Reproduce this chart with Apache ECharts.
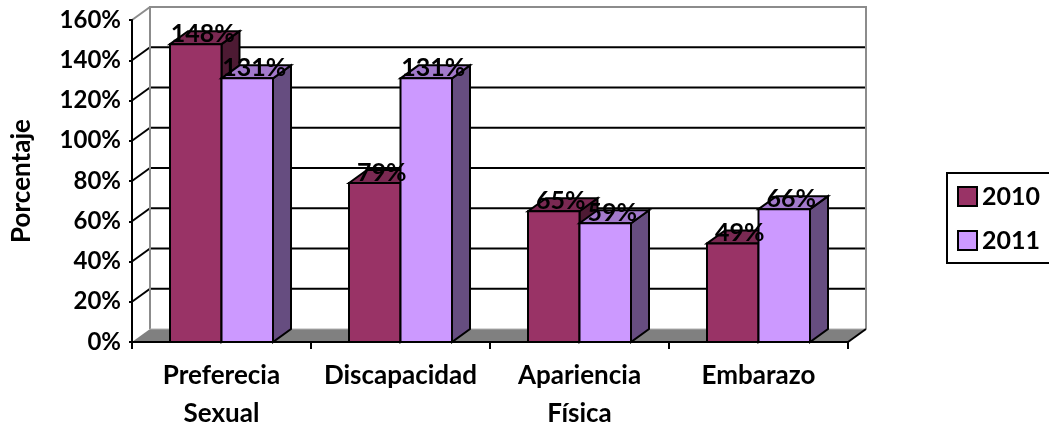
<!DOCTYPE html>
<html><head><meta charset="utf-8">
<style>html,body{margin:0;padding:0;background:#fff}#c{width:1049px;height:425px}</style>
<script src="https://cdn.jsdelivr.net/npm/echarts@6/dist/echarts.min.js"></script>
</head><body><div id="c"></div>
<script>
const categories = ['Preferecia\nSexual', 'Discapacidad', 'Apariencia\nFísica', 'Embarazo'];
const values2010 = [148, 79, 65, 49];
const values2011 = [131, 131, 59, 66];
const yTicks = [0, 20, 40, 60, 80, 100, 120, 140, 160];

const DX = 18, DY = 13, BAR_W = 51.5;
const FONT = 'Lato, "Open Sans", sans-serif';
const LINE = { stroke: '#000', lineWidth: 2 };

function poly(points, fill, z2) {
  return { type: 'polygon', z2: z2 || 0, shape: { points }, style: { fill, stroke: '#000', lineWidth: 2, lineJoin: 'miter' } };
}
function barRenderer(side, front, top, dark) {
  return function (params, api) {
    const p = api.coord([api.value(0), api.value(1)]);
    const base = api.coord([api.value(0), 0]);
    const x0 = side === 0 ? p[0] - BAR_W : p[0];
    const x1 = x0 + BAR_W;
    return { type: 'group', children: [
      poly([[x1, p[1]], [x1 + DX, p[1] - DY], [x1 + DX, base[1] - DY], [x1, base[1]]], dark),
      poly([[x0, p[1]], [x0 + DX, p[1] - DY], [x1 + DX, p[1] - DY], [x1, p[1]]], top),
      poly([[x0, p[1]], [x1, p[1]], [x1, base[1]], [x0, base[1]]], front)
    ] };
  };
}
function labelRenderer(side) {
  return function (params, api) {
    const p = api.coord([api.value(0), api.value(1)]);
    const cx = (side === 0 ? p[0] - BAR_W / 2 : p[0] + BAR_W / 2) + DX / 2 - 2;
    return { type: 'text', style: { x: cx, y: p[1] - DY + 3, text: api.value(1) + '%', align: 'center', verticalAlign: 'middle',
      font: 'bold 25px ' + FONT, fill: '#000' } };
  };
}
function wallRenderer(params, api) {
  const c = params.coordSys, L = c.x, R = c.x + c.width;
  const yOf = v => api.coord([0, v])[1];
  const bottom = yOf(0), top = yOf(yTicks[yTicks.length - 1]);
  const kids = [];
  kids.push({ type: 'polygon', shape: { points: [[L, bottom], [L + DX, bottom - DY], [R + DX, bottom - DY], [R, bottom]] }, style: { fill: '#808080', stroke: null } });
  yTicks.forEach(v => {
    const y = yOf(v);
    const last = v === yTicks[yTicks.length - 1];
    if (v !== 0 && !last) kids.push({ type: 'line', shape: { x1: L + DX, y1: y - DY, x2: R + DX, y2: y - DY }, style: LINE });
    if (v !== 0) kids.push({ type: 'line', shape: { x1: L, y1: y, x2: L + DX, y2: y - DY }, style: last ? { stroke: '#8c8c8c', lineWidth: 2 } : LINE });
  });
  const gray = { stroke: '#8c8c8c', lineWidth: 2, fill: null };
  kids.push({ type: 'polyline', shape: { points: [[L + DX, bottom - DY], [L + DX, top - DY], [R + DX, top - DY], [R + DX, bottom - DY]] }, style: gray });
  kids.push({ type: 'line', shape: { x1: L + DX, y1: bottom - DY, x2: R + DX, y2: bottom - DY }, style: { stroke: '#b0b0b0', lineWidth: 1 } });
  kids.push({ type: 'line', shape: { x1: R, y1: bottom, x2: R + DX, y2: bottom - DY }, style: LINE });
  return { type: 'group', children: kids };
}
const toRows = arr => arr.map((v, i) => [i, v]);

const chart = echarts.init(document.getElementById('c'), null, { renderer: 'canvas' });
chart.setOption({
  animation: false,
  backgroundColor: '#fff',
  textStyle: { fontFamily: FONT },
  grid: { left: 132, right: 201, top: 20, bottom: 83, outerBoundsMode: 'none' },
  legend: {
    data: [{ name: '2010', icon: 'rect' }, { name: '2011', icon: 'rect' }], orient: 'vertical', left: 947, top: 173,
    padding: [11, 40, 10, 10], itemGap: 19, itemWidth: 19, itemHeight: 19,
    borderColor: '#000', borderWidth: 2, backgroundColor: '#fff', borderRadius: 0,
    itemStyle: { borderColor: '#000', borderWidth: 2 },
    textStyle: { fontFamily: FONT, fontWeight: 'bold', fontSize: 25, color: '#000' }
  },
  xAxis: {
    type: 'category', data: categories, z: 3,
    axisLine: { lineStyle: { color: '#000', width: 2 } },
    axisTick: { show: true, length: 7, alignWithLabel: false, lineStyle: { color: '#000', width: 2 } },
    axisLabel: { color: '#000', fontFamily: FONT, fontWeight: 'bold', fontSize: 26, lineHeight: 38, margin: 15, interval: 0 }
  },
  yAxis: {
    type: 'value', min: 0, max: 160, interval: 20, z: 3,
    name: 'Porcentaje', nameLocation: 'middle', nameGap: 97,
    nameTextStyle: { color: '#000', fontFamily: FONT, fontWeight: 'bold', fontSize: 26 },
    splitLine: { show: false },
    axisLine: { show: true, lineStyle: { color: '#000', width: 2 } },
    axisTick: { show: true, length: 3, lineStyle: { color: '#000', width: 2 } },
    axisLabel: { color: '#000', fontFamily: FONT, fontWeight: 'bold', fontSize: 24, margin: 11, formatter: '{value}%' }
  },
  series: [
    { type: 'custom', name: 'wall', z: 1, silent: true, renderItem: wallRenderer, data: [[0, 0]] },
    { type: 'custom', name: '2010', z: 2, renderItem: barRenderer(0, '#993366', '#7a2952', '#4d1a33'),
      itemStyle: { color: '#993366' }, data: toRows(values2010) },
    { type: 'custom', name: '2011', z: 2, renderItem: barRenderer(1, '#CC99FF', '#a37acc', '#664d80'),
      itemStyle: { color: '#CC99FF' }, data: toRows(values2011) },
    { type: 'custom', name: 'labels2010', z: 5, silent: true, renderItem: labelRenderer(0), data: toRows(values2010) },
    { type: 'custom', name: 'labels2011', z: 5, silent: true, renderItem: labelRenderer(1), data: toRows(values2011) }
  ]
});
</script></body></html>
